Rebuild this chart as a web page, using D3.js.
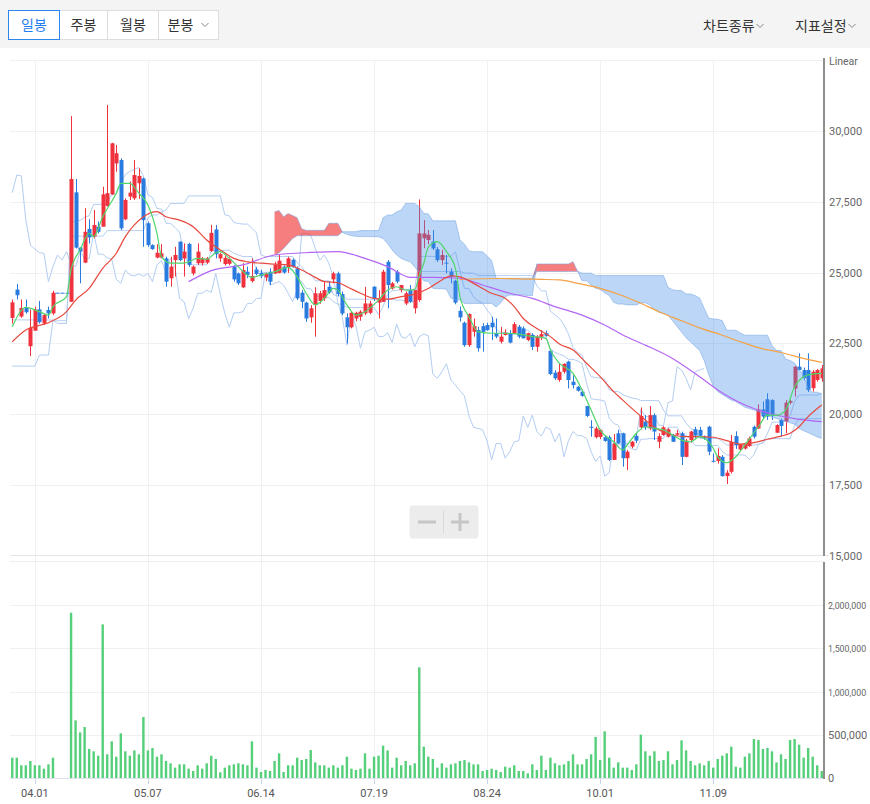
<!DOCTYPE html>
<html><head><meta charset="utf-8">
<script src="https://cdn.jsdelivr.net/npm/d3@7"></script>
<style>
html,body{margin:0;padding:0;background:#fff;}
svg{display:block;font-family:Roboto,"Noto Sans","Noto Sans CJK KR",sans-serif;}
</style></head><body>
<svg id="c" width="870" height="804"></svg>
<script>
// ---------- data ----------
const tickIndex = [5,30,55,80,105,130,155];
const tickLabels = ["04.01","05.07","06.14","07.19","08.24","10.01","11.09"];
const priceTicks = [15000,17500,20000,22500,25000,27500,30000];
const volumeTicks = [0,500000,1000000,1500000,2000000];
const periodTabs = ["일봉","주봉","월봉","분봉"];
const menuItems = ["차트종류","지표설정"];

const open = [23400,24400,23450,23750,22400,22950,23700,23200,23680,23560,24290,24290,24290,23970,27830,25880,25350,26540,26270,26620,26620,27350,27760,28850,28970,26880,27680,27620,28150,28320,26740,25970,25530,25530,25500,24800,25440,26090,25500,26010,24970,25330,25330,25350,25760,26520,25500,25300,25310,25210,24970,24480,25030,24700,25110,24990,24830,25030,24970,24990,25210,25180,25450,25150,24290,23940,23420,23860,24000,24090,24500,24760,24970,24240,23420,23070,23380,23440,23560,23580,24500,23940,23970,25380,24440,25030,24380,23910,24380,23740,24030,26210,26150,26090,25820,25440,25350,25030,24710,23650,23230,22440,22910,22970,23110,23150,23230,22860,22560,22800,22860,22860,23090,23030,22620,22800,22380,22740,22860,22240,21470,21210,21500,21860,21150,20970,20800,20290,19560,19190,19200,19190,19190,18390,19330,19330,18450,18860,19240,19540,19740,19500,19970,19030,19270,19210,19270,19280,19330,18500,19090,19470,19450,19200,19560,18360,18350,18500,17820,17970,19230,18760,18790,18880,19560,19500,20170,20530,20500,19350,19800,19740,20410,20910,21680,21560,21560,20920,21210,21270];
const high = [24050,24600,24050,24050,23700,23800,24000,23550,23800,24360,24290,24290,24290,30520,28300,25900,27270,26880,27210,26800,28030,30910,29580,29500,29030,27620,28210,28970,28680,28350,26800,26000,26000,26000,25560,25560,25910,26100,26030,26050,25250,26030,25550,25550,26680,26680,25700,25600,25540,25270,25000,25330,25210,25500,25200,25100,25000,25150,25380,25620,25250,25560,25500,25210,24380,23970,23850,24480,24350,24680,24700,25030,25030,24330,23560,23620,23620,23670,24500,24000,24520,24380,25100,25440,24670,25090,24560,24330,24560,24380,27580,26850,26500,26500,25900,25800,25620,25150,24750,23800,23270,23560,23380,23090,23210,23230,23440,23380,23090,23000,22970,23250,23150,23100,22880,22860,22790,22970,22950,22290,21560,21800,21800,21890,21380,21000,20880,20300,19790,19560,19480,19250,19250,19300,19450,19350,18740,19060,19330,20240,19970,20290,20030,19330,19580,19510,19300,19450,19390,19130,19420,19560,19560,19250,19590,18620,18800,18560,18030,19270,19400,18950,19000,19210,19600,20350,20450,20740,20530,19650,19850,20500,20500,21700,22150,21650,22150,21560,21600,21740];
const low = [23200,24050,23400,23550,22050,22950,23200,23150,23380,23500,24290,24290,24290,23970,25850,24620,25330,26030,26210,26380,26620,27330,27740,28560,26500,26850,27560,27560,27600,25910,25910,25800,25500,25500,24500,24500,24860,25400,24860,25200,24900,25270,25250,25300,25730,25500,25380,25250,25260,24680,24560,24450,24800,24650,24900,24800,24700,24560,24950,24970,24960,24990,25180,24030,23740,23260,23230,22740,23900,24000,24250,24620,24160,23500,22500,23030,23280,23300,23500,23530,24000,23380,23970,23740,24400,24620,24300,23850,23930,23560,23970,25860,26000,25800,25380,25270,24970,24620,23880,23270,22380,22380,22740,22210,22210,22950,22620,22680,22500,22780,22500,22830,22680,22680,22580,22270,22210,22620,22740,21380,21210,21150,21440,20910,20910,20800,20620,19900,19210,19150,19120,19030,18350,18390,18950,18150,18030,18800,18980,19470,19450,19440,19090,18800,19240,19180,19020,19240,18210,18480,19000,19150,19170,19100,18560,18300,18260,17800,17540,17910,18780,18700,18760,18850,19150,19480,19850,19800,19800,19350,19210,19330,20350,20620,21560,21200,20790,20800,21150,21150];
const close = [23950,24200,23750,23600,23050,23700,23250,23500,23560,24290,24290,24290,24290,28300,25880,25740,26440,26240,26680,26440,27760,27800,29560,29210,26560,27560,27820,28440,28410,26850,25970,25830,25700,25680,24680,25210,25620,25440,25740,25270,25210,25740,25500,25500,26400,25650,25650,25520,25480,24760,24620,25090,24920,24880,24950,24870,24970,24680,25270,25420,25000,25500,25190,24090,23970,23380,23740,24270,24270,24380,24300,24970,24240,23560,23070,23580,23580,23620,23910,23910,24090,24090,25030,24560,24620,24680,24560,24270,23970,24380,26380,26380,26330,25850,25440,25620,25330,24850,23940,23420,22440,23540,23110,22330,22910,22970,23070,22740,22740,22880,22530,23180,22740,22680,22860,22380,22740,22830,22770,21420,21270,21500,21780,21210,21030,20830,20650,19940,19540,19500,19450,19060,18390,18970,18970,18450,18680,19030,19070,19940,19540,19970,19390,19230,19540,19470,19030,19330,18500,19070,19390,19250,19240,19150,18680,18330,18530,17820,17940,19030,18910,18950,18970,19150,19210,20170,19920,19920,19950,19620,19590,20410,20470,21680,21560,21270,20860,21500,21560,21620];
const volume = [235000,235000,147000,147000,197000,147000,147000,108000,158000,235000,0,0,0,1913000,667000,528000,590000,336000,309000,258000,1778000,274000,424000,247000,517000,309000,258000,320000,274000,706000,320000,347000,247000,274000,197000,170000,120000,158000,158000,108000,81000,147000,108000,170000,258000,220000,66000,120000,147000,158000,170000,158000,147000,424000,120000,69000,93000,81000,197000,285000,69000,147000,147000,235000,208000,220000,324000,181000,147000,147000,120000,147000,120000,147000,247000,108000,93000,108000,285000,108000,247000,258000,374000,320000,120000,235000,147000,197000,147000,170000,1281000,363000,247000,220000,120000,170000,120000,158000,170000,197000,208000,181000,158000,158000,81000,93000,108000,93000,69000,131000,120000,147000,81000,81000,54000,158000,93000,258000,93000,235000,170000,147000,158000,197000,274000,158000,158000,220000,274000,475000,208000,540000,235000,120000,181000,120000,120000,93000,158000,502000,309000,258000,309000,197000,208000,309000,158000,208000,436000,320000,197000,147000,170000,147000,197000,120000,220000,258000,285000,363000,131000,120000,247000,285000,451000,440000,336000,347000,309000,181000,274000,220000,440000,451000,386000,235000,347000,247000,147000,81000];

// moving averages: [candle index, value]
const ma5 = [[0,23090],[3,23770],[6,23620],[8,23500],[9,23800],[12,24150],[13,25100],[15,25800],[17,26380],[18,26270],[20,26970],[23,27800],[24,28150],[26,28150],[28,27800],[30,27380],[32,26380],[33,25560],[35,25330],[38,25330],[41,25500],[43,25470],[45,25700],[46,25740],[48,25500],[50,25200],[53,24830],[55,24910],[58,25030],[61,25180],[63,24850],[65,24270],[67,23860],[69,24090],[71,24440],[72,24380],[74,23860],[76,23500],[78,23620],[81,24030],[83,24380],[85,24500],[87,24380],[89,24400],[90,24900],[91,25330],[92,25900],[94,26090],[96,25740],[98,25150],[99,24150],[101,23440],[103,22910],[106,22860],[109,22860],[112,22830],[115,22740],[118,22680],[119,22270],[121,21800],[124,21440],[126,20860],[128,20150],[130,19450],[133,19030],[135,18740],[136,18920],[138,19330],[140,19560],[142,19500],[144,19450],[146,19270],[148,19090],[150,19030],[152,19210],[155,18800],[156,18500],[158,18290],[160,18500],[162,18920],[165,19560],[167,19970],[169,19970],[171,20150],[173,20970],[176,21390],[179,21440]];
const ma20 = [[0,22560],[3,22970],[8,23230],[12,23620],[14,24030],[17,24440],[20,25150],[23,25680],[25,26270],[27,26680],[29,26970],[32,27150],[34,26970],[37,26850],[40,26620],[43,26150],[46,25800],[49,25500],[52,25380],[55,25330],[58,25300],[61,25270],[64,25090],[67,24830],[69,24680],[72,24640],[74,24500],[77,24270],[80,24090],[83,24060],[86,24150],[89,24240],[92,24440],[95,24740],[97,24880],[99,24850],[102,24620],[106,24270],[109,24090],[111,23800],[113,23380],[116,23030],[119,22740],[121,22480],[124,22270],[127,21800],[130,21330],[133,20800],[135,20500],[137,20210],[140,19800],[143,19450],[146,19270],[149,19210],[152,19210],[155,19190],[158,19070],[161,18950],[164,19000],[167,19120],[170,19230],[172,19330],[174,19560],[176,19920],[179,20330]];
const ma60 = [[39,24680],[44,25070],[51,25270],[58,25620],[66,25710],[72,25740],[78,25500],[83,25210],[88,24830],[93,24830],[99,24800],[104,24560],[110,24270],[115,24090],[120,23800],[126,23500],[131,23150],[135,22800],[140,22440],[146,21970],[151,21440],[156,20860],[162,20330],[168,20010],[174,19820],[179,19740]];
const ma120 = [[99,24760],[108,24790],[117,24760],[121,24740],[125,24620],[130,24445],[135,24180],[139,23915],[143,23620],[148,23300],[152,23050],[157,22790],[161,22560],[165,22350],[170,22180],[174,22010],[179,21830]];

// ichimoku lines
const tenkan = [23330,23330,23330,23330,23330,23330,23330,23330,23325,23325,23205,23205,23205,26735,26835,26835,26950,27010,27405,27405,27405,27440,27765,27765,28120,28470,28560,28645,28705,28410,27745,27650,27265,27235,26735,26735,26590,26425,25650,25275,25275,25275,25275,25275,25770,25770,25770,25790,25790,25680,25620,25565,25565,25565,25075,25025,24995,24975,24975,25035,25090,25090,25090,24825,24680,24440,24425,24180,24150,24150,24120,23975,23885,23885,23765,23765,23765,23765,23765,23765,23765,23510,23800,24235,24360,24370,24410,24410,24410,24410,25570,25570,25570,25570,25570,25570,25570,25570,25730,25060,24440,24440,24140,24005,23915,23680,23480,23005,22885,22885,22825,22825,22825,22970,22970,22825,22730,22730,22730,22315,22180,22125,22060,21940,21940,21885,21785,21095,20550,20520,20505,20460,19865,19675,19615,19225,18895,18780,18740,19120,19120,19145,19145,19145,19145,19545,19545,19545,19250,19250,19120,18895,18895,18885,18900,18900,18900,18695,18565,18565,18565,18565,18565,18405,18570,18945,18995,19325,19720,19720,19750,19795,19945,20455,20680,20680,20680,20680,20680,20740];
const kijun = [21700,21700,21700,21700,21700,21700,22090,22090,22090,23300,23300,23300,23300,26285,26285,26285,26285,26285,26285,26285,26285,26480,26480,26480,26480,26480,26480,26480,26480,26480,26930,27030,27030,27145,27205,27440,27440,27440,27440,27705,27705,27705,27705,27705,27705,27705,27705,27040,27000,26765,26735,26710,26710,26565,26400,25625,25565,25565,25565,25565,25565,25565,25565,25355,25210,24970,24955,24710,24710,24710,24710,24220,24180,24180,24060,24060,24060,24060,24060,24060,24060,24060,24060,24060,24060,24030,24030,24000,23970,23970,25040,25040,25040,25040,25040,25040,25040,25040,25040,25040,24980,24980,24980,24895,24895,24895,24895,24895,24895,24895,24895,24895,24895,24895,24895,24895,24530,24355,24355,23640,23505,23385,23150,22830,22355,22180,22090,21670,21325,21295,21280,21235,20865,20800,20800,20700,20625,20575,20550,20485,20485,20485,20485,20475,20145,19945,19945,19945,19945,19690,19500,19440,19150,19145,19145,19145,19145,19045,18915,18915,18915,18915,18915,18915,18915,18945,18995,19140,19140,19140,19140,19140,19140,19620,19845,19845,19845,19845,19845,19845];
const spanStart = 58;
const spanA = [27148,27190,26970,27088,27015,26933,26545,26490,26490,26490,26490,26490,26738,26738,26738,26415,26350,26300,26280,26270,26270,26270,26266,26266,26200,26030,25800,25619,25500,25430,25384,25200,25000,24705,24690,24445,24430,24430,24415,24098,24033,24033,23913,23913,23913,23913,23913,23913,23913,23785,23930,24148,24210,24200,24220,24205,24190,24190,25305,25305,25305,25305,25305,25305,25305,25305,25385,25050,24710,24710,24560,24450,24405,24288,24188,23950,23890,23890,23860,23860,23860,23933,23933,23860,23700,23600,23550,23500,23300,23100,22900,22700,22550,22400,22250,21900,21400,21000,20800,20700,20600,20500,20450,20350,20250,20200,20150,20100,20000,19950,19900,19850,19800,19750,19700,19650,19500,19420,19350,19280,19200,19150];
const spanB = [25619,25700,25850,26030,26200,26300,26300,26300,26300,26300,26300,26300,26300,26300,26300,26442,26442,26442,26442,26480,26480,26480,26480,26480,26930,27030,27030,27145,27205,27440,27440,27440,27325,27085,27070,26825,26825,26825,26825,26825,26825,26160,26000,25765,25735,25735,25735,25590,25425,24800,24800,24800,24800,24800,24800,24800,24800,24800,25040,25040,25040,25040,25040,25040,25040,25040,25040,25040,24980,24980,24980,24895,24895,24895,24895,24895,24895,24895,24895,24895,24895,24895,24895,24895,24895,24895,24895,24480,24395,24365,24365,24245,24245,24190,24100,23740,23395,23365,23350,23305,22965,22965,22965,22865,22790,22790,22790,22790,22790,22790,22425,22250,22250,21950,21900,21810,21575,21375,20900,20780,20780,20720];

// ---------- drawing ----------
const svg = d3.select("#c");
const N = close.length;
const x = d3.scaleBand().domain(d3.range(N)).range([10, 824]);
const cx = i => x(i) + x.bandwidth() / 2;
const y = d3.scaleLinear().domain([15000, 32500]).range([556, 60]);
const yv = d3.scaleLinear().domain([0, 2500000]).range([778, 562]);

const UP = "#f0323f", DOWN = "#2a7be0", ICHI = "#b3cdf2";

// toolbar
svg.append("rect").attr("x",0).attr("y",0).attr("width",870).attr("height",48).attr("fill","#f4f4f4");
const tabW = [51,48,51,60];
let tx = 8.5;
const tabs = svg.append("g");
periodTabs.forEach((t,k)=>{
  const g = tabs.append("g");
  g.append("rect").attr("x",tx).attr("y",10.5).attr("width",tabW[k]).attr("height",29)
   .attr("fill","#fff").attr("stroke","#dddddd");
  const tcx = k===3 ? tx+22 : tx+tabW[k]/2;
  g.append("text").attr("x",tcx).attr("y",30).attr("text-anchor","middle")
   .attr("font-family","'Noto Sans CJK KR'").attr("font-size",14)
   .attr("fill",k===0?"#1f7ff0":"#333").text(t);
  if(k===3){
    g.append("path").attr("d",`M${tx+43},23 l3.5,3.5 l3.5,-3.5`).attr("fill","none").attr("stroke","#888").attr("stroke-width",1);
  }
  tx += tabW[k];
});
tabs.append("rect").attr("x",8.5).attr("y",10.5).attr("width",tabW[0]).attr("height",29)
  .attr("fill","none").attr("stroke","#2b86f0");
const menuX = [703,795];
menuItems.forEach((t,k)=>{
  const tt = svg.append("text").attr("x",menuX[k]).attr("y",31)
   .attr("font-family","'Noto Sans CJK KR'").attr("font-size",14).attr("fill","#333").text(t);
  const w = tt.node().getComputedTextLength();
  svg.append("path").attr("d",`M${menuX[k]+w+2},24 l3.5,3.5 l3.5,-3.5`).attr("fill","none").attr("stroke","#888").attr("stroke-width",1);
});

// grid
const grid = svg.append("g").attr("shape-rendering","crispEdges");
tickIndex.forEach(i=>{
  grid.append("line").attr("x1",Math.round(cx(i))+0.5).attr("x2",Math.round(cx(i))+0.5)
   .attr("y1",60).attr("y2",778).attr("stroke","#eff0f5");
});
priceTicks.slice(1).concat([32500]).forEach(v=>{
  grid.append("line").attr("x1",10).attr("x2",824).attr("y1",Math.round(y(v))+0.5).attr("y2",Math.round(y(v))+0.5)
   .attr("stroke","#f0f0f2");
});
grid.append("line").attr("x1",10).attr("x2",829).attr("y1",555.5).attr("y2",555.5).attr("stroke","#e6e6e6");
grid.append("line").attr("x1",10).attr("x2",824).attr("y1",561.5).attr("y2",561.5).attr("stroke","#eeeeee");
volumeTicks.slice(1).forEach(v=>{
  grid.append("line").attr("x1",10).attr("x2",824).attr("y1",Math.round(yv(v))+0.5).attr("y2",Math.round(yv(v))+0.5)
   .attr("stroke","#f0f0f2");
});

// ichimoku conversion / base / lagging lines
const lineI = d3.line().defined(d=>d[1]!=null).x(d=>cx(d[0])).y(d=>y(d[1]));
const ichi = svg.append("g").attr("fill","none").attr("stroke",ICHI).attr("stroke-width",1);
ichi.append("path").attr("d", lineI(tenkan.map((v,i)=>[i,v])));
ichi.append("path").attr("d", lineI(kijun.map((v,i)=>[i,v])));
ichi.append("path").attr("d", lineI(close.slice(26).map((v,k)=>[k,v])));

// candles
const cg = svg.append("g");
const bw = 4;
d3.range(N).forEach(i=>{
  const up = close[i] > open[i];
  const col = up ? UP : DOWN;
  const xc = Math.round(cx(i));
  cg.append("line").attr("x1",xc+0.5).attr("x2",xc+0.5).attr("y1",y(high[i])).attr("y2",y(low[i]))
    .attr("stroke",col).attr("stroke-width",1);
  const top = y(Math.max(open[i],close[i])), bot = y(Math.min(open[i],close[i]));
  cg.append("rect").attr("x",xc+0.5-bw/2).attr("y",top).attr("width",bw).attr("height",Math.max(1,bot-top))
    .attr("fill",col);
});

// cloud
const spans = spanA.map((a,k)=>({i:spanStart+k, a:a, b:spanB[k]}));
const cloud = svg.append("g");
cloud.append("path").attr("fill","rgba(240,40,40,0.6)")
  .attr("d", d3.area().x(d=>cx(d.i)).y0(d=>y(d.b)).y1(d=>y(Math.max(d.a,d.b)))(spans));
cloud.append("path").attr("fill","rgba(66,140,230,0.36)")
  .attr("d", d3.area().x(d=>cx(d.i)).y0(d=>y(d.a)).y1(d=>y(Math.max(d.a,d.b)))(spans));
cloud.append("path").attr("fill","none").attr("stroke","rgba(120,165,230,0.55)").attr("stroke-width",1)
  .attr("d", lineI(spans.map(d=>[d.i,d.a])));
cloud.append("path").attr("fill","none").attr("stroke","rgba(120,165,230,0.55)").attr("stroke-width",1)
  .attr("d", lineI(spans.map(d=>[d.i,d.b])));

// moving averages
const ma = svg.append("g").attr("fill","none").attr("stroke-width",1.2);
[[ma120,"#f5a144"],[ma60,"#b366f5"],[ma20,"#e8493f"],[ma5,"#4fd66a"]].forEach(([d,c])=>{
  ma.append("path").attr("stroke",c).attr("d", d3.line().curve(d3.curveMonotoneX).x(p=>cx(p[0])).y(p=>y(p[1]))(d));
});

// volume
svg.append("g").selectAll("rect").data(volume.map((v,i)=>({i,v})).filter(d=>d.v>0)).join("rect")
  .attr("x",d=>cx(d.i)-1.2).attr("width",2.4)
  .attr("y",d=>yv(d.v)).attr("height",d=>yv(0)-yv(d.v)).attr("fill","#55cf7a");
svg.append("line").attr("x1",10).attr("x2",824).attr("y1",778.5).attr("y2",778.5).attr("stroke","#dde1ee");

// right axis
const ax = svg.append("g");
ax.append("line").attr("x1",824).attr("x2",824).attr("y1",58).attr("y2",556).attr("stroke","#8e8e8e").attr("stroke-width",2);
ax.append("line").attr("x1",824).attr("x2",824).attr("y1",562).attr("y2",779).attr("stroke","#8e8e8e").attr("stroke-width",2);
ax.append("text").attr("x",829).attr("y",65).attr("font-size",10.5).attr("fill","#666").text("Linear");
priceTicks.forEach(v=>{
  ax.append("text").attr("x",829).attr("y",y(v)+4).attr("font-size",11).attr("fill","#666").text(d3.format(",")(v));
});
volumeTicks.forEach(v=>{
  const label = d3.format(",")(v);
  ax.append("text").attr("x",828).attr("y",yv(v)+4)
    .attr("font-size", label.length > 7 ? 8.8 : 11).attr("fill","#666").text(label);
});

// date axis
tickIndex.forEach((i,k)=>{
  svg.append("line").attr("x1",Math.round(cx(i))+0.5).attr("x2",Math.round(cx(i))+0.5).attr("y1",779).attr("y2",784)
    .attr("stroke","#c8d2ea");
  svg.append("text").attr("x",cx(i)).attr("y",797).attr("text-anchor","middle").attr("font-size",11).attr("fill","#555").text(tickLabels[k]);
});

// zoom control
const zc = svg.append("g");
zc.append("rect").attr("x",409.5).attr("y",505.5).attr("width",69).attr("height",33).attr("rx",3).attr("fill","#ececec");
zc.append("line").attr("x1",443.5).attr("x2",443.5).attr("y1",511).attr("y2",533).attr("stroke","#d9d9d9");
zc.append("line").attr("x1",418).attr("x2",436).attr("y1",522).attr("y2",522).attr("stroke","#c6c6c6").attr("stroke-width",3);
zc.append("line").attr("x1",451).attr("x2",469).attr("y1",522).attr("y2",522).attr("stroke","#c6c6c6").attr("stroke-width",3);
zc.append("line").attr("x1",460).attr("x2",460).attr("y1",513).attr("y2",531).attr("stroke","#c6c6c6").attr("stroke-width",3);
</script>
</body></html>
